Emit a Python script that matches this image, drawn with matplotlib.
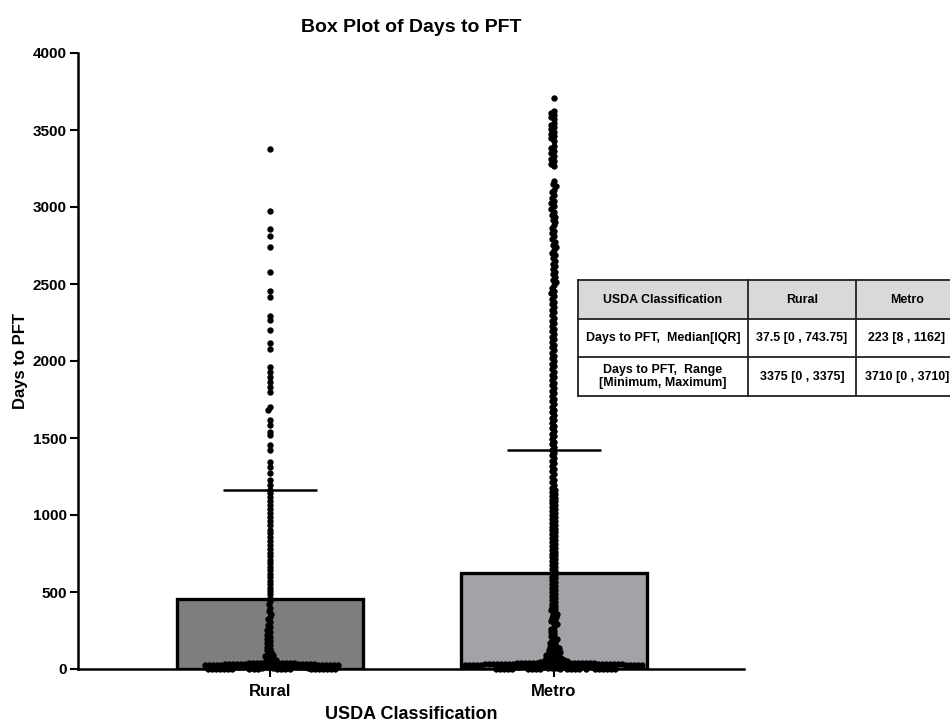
import numpy as np
import matplotlib
matplotlib.use("Agg")
import matplotlib.pyplot as plt

# ---------------- data ----------------
categories = ["Rural", "Metro"]
bar_means = [455, 625]
bar_sd = [705, 795]
bar_colors = ["#7e7e7e", "#a2a2a7"]

rural_values = [3375, 2975, 2855, 2810, 2740, 2578, 2455, 2415, 2290, 2265, 2200, 2117,
                2078, 1960, 1930, 1896, 1864, 1831, 1799, 1700, 1682, 1617, 1584, 1540,
                1519, 1455, 1422, 1344, 1312, 1273, 1227, 1195, 1165, 1140, 1118, 1090,
                1062, 1040, 1012, 985, 958, 935, 905, 880, 856, 828, 802, 780, 755, 733,
                710, 688, 664, 640, 618, 596, 572, 550, 528, 505, 484, 462, 440, 420, 398,
                378, 360, 340, 322, 305, 288, 270, 255, 238, 222, 208, 194, 180, 168, 155,
                144, 132, 122, 112, 102, 94, 86, 78, 70, 63, 56, 50, 44]
rural_low = [40, 40, 39, 39, 38, 38, 37, 37, 36, 36, 35, 35, 34, 34, 33, 33, 32, 32, 31,
             31, 30, 30, 29, 29, 28, 28, 27, 27, 26, 26, 25, 25, 24, 24, 23, 22, 22, 21,
             20, 20, 19, 18, 18, 17, 16, 15, 15, 14, 13, 12, 10, 8, 6, 4, 2,
             0, 0, 0, 0, 0, 0, 0, 0, 0, 0, 0, 0, 0, 0, 0, 0, 0, 0, 0, 0]

metro_top = [3710, 3622, 3610, 3598, 3585, 3570, 3548, 3535, 3520, 3505, 3490, 3475,
             3462, 3448, 3430, 3395, 3380, 3365, 3350, 3328, 3312, 3298, 3282, 3268]
metro_upper = [3170, 3150, 3135, 3112, 3095, 3078, 3060, 3041, 3025, 3004, 2988, 2970,
               2951, 2935, 2917, 2900, 2880, 2862, 2845, 2828, 2810, 2791, 2775, 2756,
               2740, 2722, 2703, 2688, 2670, 2651, 2633, 2615, 2598, 2580, 2562, 2545,
               2526, 2510, 2492, 2474, 2455, 2440, 2421, 2403, 2386, 2368, 2350, 2333,
               2315, 2297, 2280, 2262, 2245, 2228, 2210, 2192, 2175, 2158, 2140, 2122,
               2105, 2088, 2070, 2052, 2035, 2018, 2000, 1983, 1965, 1948, 1930, 1912,
               1895, 1878, 1860, 1843, 1825, 1808, 1790, 1772, 1755, 1738, 1720, 1703,
               1685, 1668, 1650, 1633, 1615, 1598, 1580, 1563, 1545, 1528, 1510, 1492,
               1475, 1458, 1440, 1423, 1405, 1388, 1370, 1353, 1335, 1318, 1300, 1283,
               1265, 1248, 1230, 1213, 1195, 1178, 1162]
metro_mid = [1150, 1138, 1125, 1112, 1100, 1088, 1075, 1062, 1050, 1038, 1025, 1012,
             1000, 988, 975, 962, 950, 938, 925, 912, 900, 888, 875, 862, 850, 838, 825,
             812, 800, 788, 775, 762, 750, 738, 725, 712, 700, 688, 675, 662, 650, 638,
             625, 612, 600, 588, 575, 562, 550, 538, 525, 512, 500, 488, 475, 462, 450,
             438, 425, 412, 400, 390, 380, 370, 360, 350, 340, 330, 320, 310, 300]
metro_low = [290, 275, 262, 250, 238, 226, 215, 205, 195, 186, 177, 168, 160, 152, 145,
             138, 131, 125, 119, 113, 108, 103, 98, 93, 89, 85, 81, 77, 73, 70, 67, 64,
             61, 58, 55, 53, 51, 49, 47, 45, 43, 41]
metro_near_zero = [40, 40, 39, 39, 39, 38, 38, 38, 37, 37, 37, 36, 36, 36, 35, 35, 35,
                   34, 34, 34, 33, 33, 33, 32, 32, 32, 31, 31, 31, 30, 30, 30, 29, 29,
                   29, 28, 28, 28, 27, 27, 27, 26, 26, 26, 25, 25, 25, 24, 24, 24, 23,
                   23, 22, 22, 21, 21, 20, 20, 19, 18, 17, 16, 15, 14, 12, 10, 8, 6, 4,
                   2, 0, 0, 0, 0, 0, 0, 0, 0, 0, 0, 0, 0, 0, 0, 0, 0, 0, 0, 0, 0]

y_ticks = [0, 500, 1000, 1500, 2000, 2500, 3000, 3500, 4000]

table_header = ["USDA Classification", "Rural", "Metro"]
table_rows = [["Days to PFT,  Median[IQR]", "37.5 [0 , 743.75]", "223 [8 , 1162]"],
              ["Days to PFT,  Range\n[Minimum, Maximum]", "3375 [0 , 3375]", "3710 [0 , 3710]"]]

# ---------------- layout ----------------
plt.rcParams['font.family'] = ['Liberation Sans', 'DejaVu Sans']
plt.rcParams['font.weight'] = 'bold'

W, H = 950, 723
fig = plt.figure(figsize=(W / 100, H / 100), dpi=100)
ax_l, ax_r, ax_b, ax_t = 78, 744, 669, 53
ax = fig.add_axes([ax_l / W, 1 - ax_b / H, (ax_r - ax_l) / W, (ax_b - ax_t) / H])
x0_px, x1_px = 270, 553.5
unit = x1_px - x0_px
ax.set_xlim((ax_l - x0_px) / unit, (ax_r - x0_px) / unit)
ax.set_ylim(0, 4000)
py_per_unit = (ax_b - ax_t) / 4000.0

xpos = np.arange(len(categories))
bar_w = 186 / unit
ax.bar(xpos, bar_means, width=bar_w, color=bar_colors, edgecolor='black',
       linewidth=2.4, zorder=2)
ax.errorbar(xpos, bar_means, yerr=[[0] * len(bar_sd), bar_sd], fmt='none',
            ecolor='black', elinewidth=1.5, capsize=34, capthick=1.8, zorder=3)


def swarm(values, half_px, coll=3.2, step=1.0):
    vals = np.sort(np.asarray(values, float))[::-1]
    ys = vals * py_per_unit
    n = int(half_px / step)
    cands = sorted([k * step for k in range(-n, n + 1)], key=lambda c: (abs(c), c))
    px, py = [], []
    for y in ys:
        near = [(a, b) for a, b in zip(px, py) if abs(b - y) < coll]
        chosen, best, bestcnt = None, None, 1e9
        for c in cands:
            cnt = 0
            for a, b in near:
                if (a - c) ** 2 + (b - y) ** 2 < coll ** 2:
                    cnt += 1
            if cnt == 0:
                chosen = c
                break
            if cnt < bestcnt:
                bestcnt, best = cnt, c
        if chosen is None:
            chosen = best
        px.append(chosen)
        py.append(y)
    return vals, np.array(px) / unit


rural_all = rural_values + rural_low
metro_all = metro_top + metro_upper + metro_mid + metro_low + metro_near_zero
for i, vals in enumerate([rural_all, metro_all]):
    v, dx = swarm(vals, 90)
    ax.scatter(i + dx, v, s=21, color='black', linewidths=0, zorder=4, clip_on=False)

for side in ['top', 'right']:
    ax.spines[side].set_visible(False)
for side in ['left', 'bottom']:
    ax.spines[side].set_linewidth(1.8)
ax.set_yticks(y_ticks)
ax.set_yticklabels([str(t) for t in y_ticks], fontsize=11, fontweight='bold')
ax.set_xticks(xpos)
ax.set_xticklabels(categories, fontsize=12, fontweight='bold')
ax.tick_params(axis='y', direction='out', length=6, width=1.5, pad=2)
ax.tick_params(axis='x', direction='out', length=6, width=1.5, pad=5)
ax.set_ylabel("Days to PFT", fontsize=12, fontweight='bold')
ax.yaxis.set_label_coords((28 - ax_l) / (ax_r - ax_l), 0.5)
ax.set_xlabel("USDA Classification", fontsize=13, fontweight='bold')
ax.xaxis.set_label_coords(0.5, -(706 - ax_b) / (ax_b - ax_t))
fig.text(((ax_l + ax_r) / 2) / W, 1 - 27 / H, "Box Plot of Days to PFT",
         ha='center', va='center', fontsize=14, fontweight='bold')

# ---------------- table ----------------
t_l, t_r, t_t, t_b = 578, 958, 280, 396
tax = fig.add_axes([t_l / W, 1 - t_b / H, (t_r - t_l) / W, (t_b - t_t) / H])
tax.set_xlim(0, t_r - t_l)
tax.set_ylim(t_b - t_t, 0)
tax.axis('off')
col_edges = [0, 170, 278, t_r - t_l]
row_edges = [0, 39, 77, t_b - t_t]
tax.add_patch(plt.Rectangle((0, 0), col_edges[-1], row_edges[1], facecolor='#d9d9d9',
                            edgecolor='none', zorder=1))
for xe in col_edges:
    tax.plot([xe, xe], [0, row_edges[-1]], color='#222222', lw=1.3, zorder=2,
             clip_on=False)
for ye in row_edges:
    tax.plot([0, col_edges[-1]], [ye, ye], color='#222222', lw=1.3, zorder=2,
             clip_on=False)
all_rows = [table_header] + table_rows
for r, row in enumerate(all_rows):
    for c, txt in enumerate(row):
        cx = (col_edges[c] + col_edges[c + 1]) / 2
        cy = (row_edges[r] + row_edges[r + 1]) / 2
        tax.text(cx, cy, txt, ha='center', va='center', fontsize=8.9,
                 fontweight='bold', linespacing=1.1, zorder=3)

fig.savefig("out.png", dpi=100)
